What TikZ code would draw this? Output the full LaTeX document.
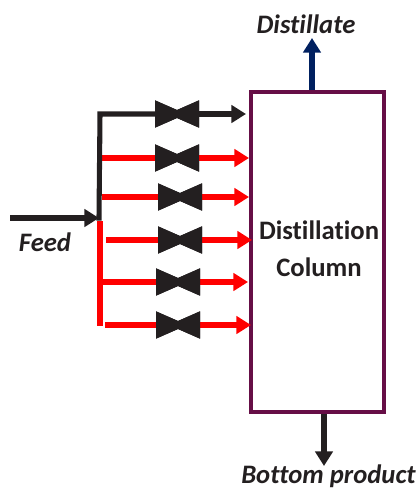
\documentclass[tikz,border=0pt]{standalone}
\usepackage{fontspec}
\setmainfont[Ligatures=NoCommon]{Carlito}
\usetikzlibrary{arrows.meta,calc}
\definecolor{plum}{HTML}{660E46}
\definecolor{navy}{HTML}{002060}
\definecolor{ink}{HTML}{231F20}
\definecolor{redline}{HTML}{FF0000}
\tikzset{
  x=0.75pt,y=-0.75pt,
  pipe/.style={line width=3.8pt,-{Triangle[length=11pt,width=13pt]}},
  plainpipe/.style={line width=3.8pt},
  blackpipe/.style={ink},
  redpipe/.style={redline},
  valve/.style={minimum width=33pt,minimum height=20.5pt,inner sep=0pt,
    path picture={\fill[ink] (path picture bounding box.north west)
      -- ($(path picture bounding box.center)+(0,-4)$)
      -- (path picture bounding box.north east)
      -- (path picture bounding box.south east)
      -- ($(path picture bounding box.center)+(0,4)$)
      -- (path picture bounding box.south west) -- cycle;}},
  column/.style={draw=plum,line width=3pt,minimum width=100pt,minimum height=240pt,inner sep=0pt},
  collabel/.style={inner sep=0pt,align=center,text=ink,font=\fontsize{20}{28}\selectfont\bfseries},
  label/.style={inner sep=0pt,font=\fontsize{20}{24}\selectfont\bfseries\itshape,text=ink},
}
\begin{document}
\begin{tikzpicture}
\useasboundingbox (0,0) rectangle (419,490);
\node[column] (col) at (317.5,252) {};
\node[collabel] (coltext) at (319,249) {Distillation\\Column};
\node[label] (dist) at (306,24) {Distillate};
\node[label] (bott) at (328.5,476) {Bottom product};
\node[label] (feedl) at (45,242) {Feed};
% feed
\coordinate (fs) at (10,218);
\coordinate (fj) at (99,218);
\coordinate (top) at (100,114);
\coordinate (rj) at (100,221);
\coordinate (rb) at (100,326);
% valves
\node[valve] (v1) at (177,114) {};
\node[valve] (v2) at (177,158) {};
\node[valve] (v3) at (180,197) {};
\node[valve] (v4) at (180,240) {};
\node[valve] (v5) at (178,282) {};
\node[valve] (v6) at (178,325) {};
% row ends
\coordinate (s2) at (102,158); \coordinate (e2) at (249,158);
\coordinate (s3) at (102,197); \coordinate (e3) at (249,197);
\coordinate (s4) at (106,240); \coordinate (e4) at (252,240);
\coordinate (s5) at (100,282); \coordinate (e5) at (248,282);
\coordinate (s6) at (105,325); \coordinate (e6) at (251,325);
\coordinate (e1) at (246,114);
\coordinate (dt) at (312,38);
\coordinate (bt) at (324,466);
% red
\draw[plainpipe,redpipe] (rj) -- (rb);
\foreach \i in {2,...,6}{
  \draw[plainpipe,redpipe] (s\i) -- (v\i.center);
  \draw[pipe,redpipe] (v\i.center) -- (e\i);
}
% black
\draw[plainpipe,blackpipe,line cap=rect] (fj) -- (top) -- (v1.center);
\draw[pipe,blackpipe] (v1.center) -- (e1);
\draw[pipe,blackpipe] (fs) -- (fj);
% valves on top
\foreach \i in {1,...,6}{
  \node[valve] at (v\i) {};
}
% products
\draw[pipe,navy] (col.north -| dt) -- (dt);
\draw[pipe,ink] (col.south -| bt) -- (bt);
\end{tikzpicture}
\end{document}
